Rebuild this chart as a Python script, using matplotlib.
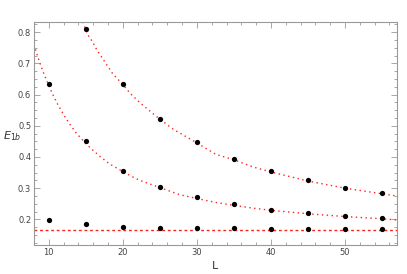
import numpy as np
import matplotlib
matplotlib.use("Agg")
import matplotlib.pyplot as plt
from matplotlib.ticker import MultipleLocator

# measured points
L = [10, 15, 20, 25, 30, 35, 40, 45, 50, 55]
e_low = [0.197, 0.184, 0.175, 0.172, 0.172, 0.171, 0.170, 0.170, 0.170, 0.170]
L_mid = [10, 15, 20, 25, 30, 35, 40, 45, 50, 55]
e_mid = [0.635, 0.450, 0.356, 0.304, 0.271, 0.248, 0.231, 0.219, 0.211, 0.203]
L_top = [15, 20, 25, 30, 35, 40, 45, 50, 55]
e_top = [0.810, 0.633, 0.522, 0.447, 0.393, 0.354, 0.325, 0.301, 0.283]

# fitted curves
fit_mid_L = [8.0, 8.5, 9.0, 9.5, 10.0, 10.5, 11.2, 12.0, 12.8, 13.7, 15.0, 15.8,
             17.0, 18.2, 20.0, 21.5, 22.3, 25.0, 27.7, 30.0, 32.6, 35.0, 37.6,
             40.0, 45.0, 50.0, 55.0, 57.0]
fit_mid_E = [0.760, 0.722, 0.688, 0.657, 0.630, 0.602, 0.569, 0.536, 0.506, 0.477,
             0.443, 0.425, 0.400, 0.378, 0.353, 0.334, 0.325, 0.302, 0.279, 0.267,
             0.254, 0.245, 0.236, 0.229, 0.218, 0.209, 0.202, 0.198]
fit_top_L = [14.6, 15.0, 15.3, 15.8, 16.5, 17.4, 18.6, 20.0, 21.0, 22.3, 25.0, 26.8,
             30.0, 32.6, 35.0, 37.6, 40.0, 45.0, 50.0, 55.0, 57.0]
fit_top_E = [0.833, 0.808, 0.791, 0.773, 0.743, 0.711, 0.668, 0.632, 0.604, 0.574,
             0.521, 0.489, 0.445, 0.408, 0.391, 0.368, 0.352, 0.323, 0.300, 0.282,
             0.275]
e_limit = 0.165

fig = plt.figure(figsize=(4.07, 2.74), dpi=100)
ax = fig.add_axes([0.0835, 0.106, 0.8915, 0.814])

red = "#ff2020"
ax.plot(fit_mid_L, fit_mid_E, color=red, lw=1.0, ls=(0, (1, 2.5)))
ax.plot(fit_top_L, fit_top_E, color=red, lw=1.0, ls=(0, (1, 2.5)))
ax.axhline(e_limit, color=red, lw=1.0, ls=(0, (2, 2)))

for xs, ys in [(L, e_low), (L_mid, e_mid), (L_top, e_top)]:
    ax.plot(xs, ys, "o", color="black", ms=3.8, mew=0)

ax.set_xlim(8, 57)
ax.set_ylim(0.118, 0.833)

ax.xaxis.set_major_locator(MultipleLocator(10))
ax.xaxis.set_minor_locator(MultipleLocator(2))
ax.yaxis.set_major_locator(MultipleLocator(0.1))
ax.yaxis.set_minor_locator(MultipleLocator(0.025))

gray = "#999999"
for s in ax.spines.values():
    s.set_color(gray)
    s.set_linewidth(0.8)
ax.tick_params(which="both", direction="in", top=True, right=True, color=gray,
               labelsize=6, labelcolor="#444444", width=0.6, pad=2)
ax.tick_params(which="major", length=4)
ax.tick_params(which="minor", length=2)

ax.set_xlabel("L", fontsize=8, color="#333333", labelpad=3)
ax.set_ylabel("$E_{1b}$", fontsize=8, color="#333333", rotation=0,
              ha="center", va="center")
ax.yaxis.set_label_coords(-0.061, 0.49)

fig.savefig("out.png", dpi=100)
